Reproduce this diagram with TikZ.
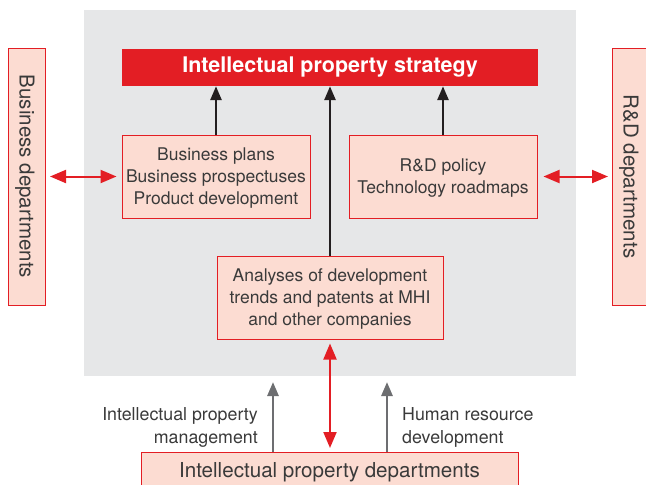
\documentclass[tikz,border=0pt]{standalone}
\usepackage{fontspec}
\setmainfont{TeX Gyre Heros}
\usetikzlibrary{arrows.meta}
\definecolor{ired}{HTML}{E31E24}
\definecolor{ipink}{HTML}{FCDCD2}
\definecolor{ibg}{HTML}{E6E7E8}
\definecolor{igray}{HTML}{6D6E71}
\definecolor{itxt}{HTML}{3A3A3A}
\definecolor{iblack}{HTML}{231F20}
\begin{document}
\begin{tikzpicture}[x=1pt,y=-1pt,
  pinkbox/.style={draw=ired, fill=ipink, line width=1pt, inner sep=0pt, align=center,
    text=itxt, font=\fontsize{17.5}{22}\selectfont, text depth=0pt},
  sidebox/.style={pinkbox, rotate=-90, minimum width=257pt, minimum height=37pt,
    font=\fontsize{20.5}{24}\selectfont, text depth=0pt},
  redarr/.style={draw=ired, line width=2pt, {Triangle[length=16pt,width=13pt]}-{Triangle[length=16pt,width=13pt]}},
  blkarr/.style={draw=iblack, line width=2.7pt, -{Triangle[length=14pt,width=11pt]}},
  grayarr/.style={draw=igray, line width=2.7pt, -{Triangle[length=14pt,width=11pt]}},
  lbl/.style={text=itxt, font=\fontsize{17.8}{23}\selectfont, inner sep=0pt}
]
\useasboundingbox (0,0) rectangle (646,485);
\fill[ibg] (84,10) rectangle (576,376);
\node[fill=ired, minimum width=416pt, minimum height=37pt, inner sep=0pt, text=white,
  font=\fontsize{21.5}{24}\selectfont\bfseries] (title) at (330,67.5) {Intellectual property strategy};
\node[pinkbox, minimum width=188pt, minimum height=83pt] (bp) at (216,176.5)
  {Business plans\\Business prospectuses\\Product development};
\node[pinkbox, minimum width=188pt, minimum height=83pt] (rd) at (443,176.5)
  {R\&D policy\\Technology roadmaps};
\node[pinkbox, minimum width=226pt, minimum height=83pt] (an) at (330,297.5)
  {Analyses of development\\trends and patents at MHI\\and other companies};
\node[sidebox] (lb) at (27,176.5) {Business departments};
\node[sidebox] (rb) at (631,176.5) {R\&D departments};
\node[pinkbox, minimum width=377pt, minimum height=42pt, anchor=north] (ip) at (329.5,452) {};
\node[text=itxt, font=\fontsize{20.6}{24}\selectfont, inner sep=0pt] (iptext) at (329.5,472.5) {Intellectual property departments};
\draw[redarr, shorten <=4pt, shorten >=5pt] (lb) -- (bp);
\draw[redarr, shorten <=6pt, shorten >=4pt] (rd) -- (rb);
\draw[blkarr] (bp.north) -- (bp.north |- title.south);
\draw[blkarr] (rd.north) -- (rd.north |- title.south);
\draw[blkarr] (an.north) -- (an.north |- title.south);
\draw[redarr, shorten <=4pt, shorten >=4pt] (an.south) -- (an.south |- ip.north);
\coordinate (g1) at (273,382);
\coordinate (g2) at (387,382);
\draw[grayarr] (g1 |- ip.north) -- (g1);
\draw[grayarr] (g2 |- ip.north) -- (g2);
\node[lbl, align=right, anchor=east] (l1) at (258,427) {Intellectual property\\management};
\node[lbl, align=left, anchor=west] (l2) at (402,427) {Human resource\\development};
\end{tikzpicture}
\end{document}
